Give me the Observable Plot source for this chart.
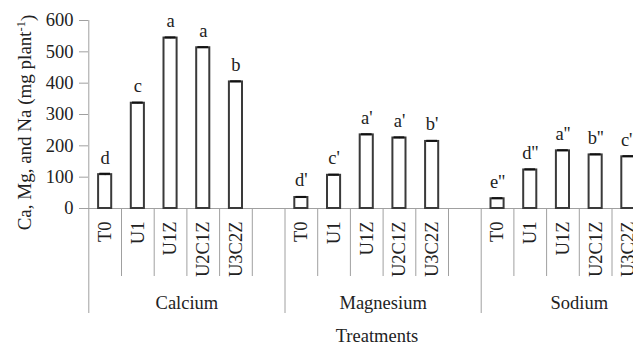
<!DOCTYPE html>
<html>
<head>
<meta charset="utf-8">
<script src="https://cdn.jsdelivr.net/npm/d3@7"></script>
<script src="https://cdn.jsdelivr.net/npm/@observablehq/plot@0.6"></script>
<style>
  html, body { margin: 0; padding: 0; background: white; overflow: hidden; }
  svg text { font-family: "Liberation Serif", "Times New Roman", serif; }
</style>
</head>
<body>
<div id="chart"></div>
<script>
const groups = ["Calcium", "Magnesium", "Sodium"];
const treatments = ["T0", "U1", "U1Z", "U2C1Z", "U3C2Z"];
const calcium = [108, 336, 544, 513, 404];
const magnesium = [35, 106, 235, 225, 214];
const sodium = [31, 123, 184, 171, 165];
const calciumErr = [3, 2, 2, 2, 2];
const magnesiumErr = [2, 2, 2, 2, 2];
const sodiumErr = [2, 2, 2, 2, 2];
const calciumLetters = ["d", "c", "a", "a", "b"];
const magnesiumLetters = ["d'", "c'", "a'", "a'", "b'"];
const sodiumLetters = ["e''", "d''", "a''", "b''", "c''"];
const yTicks = [0, 100, 200, 300, 400, 500, 600];
const yTitle = "Ca, Mg, and Na (mg plant";
const yTitleSup = "-1";
const xTitle = "Treatments";

const seriesValues = [calcium, magnesium, sodium];
const seriesErr = [calciumErr, magnesiumErr, sodiumErr];
const seriesLetters = [calciumLetters, magnesiumLetters, sodiumLetters];

// slot keys: 5 treatments + 1 empty slot per group
const keys = [];
const rows = [];
const slots = [];
groups.forEach((g, gi) => {
  treatments.forEach((t, ti) => {
    const key = g + "|" + t;
    keys.push(key);
    rows.push({key, group: g, treatment: t, value: seriesValues[gi][ti], err: seriesErr[gi][ti], letter: seriesLetters[gi][ti]});
    slots.push({key, groupStart: ti === 0});
  });
  const gapKey = g + "|gap";
  keys.push(gapKey);
  slots.push({key: gapKey, groupStart: false});
});
const groupLabels = groups.map((g) => ({group: g, key: g + "|" + treatments[2]}));

const W = 633, H = 345;
const xRange = [88.3, 676.9];
const bw = (xRange[1] - xRange[0]) / keys.length;
const mTop = 20, mBottom = 137, mLeft = 88;
const frameH = H - mTop - mBottom;
const axisGray = "#a0a0a0";
const barStroke = "#3a3a3a";
const textColor = "#222";
const serif = "Liberation Serif";
const fs = 18.5;

const chart = Plot.plot({
  width: W,
  height: H,
  marginLeft: mLeft,
  marginRight: 0,
  marginTop: mTop,
  marginBottom: mBottom,
  style: {fontFamily: serif, fontSize: fs + "px", color: textColor, background: "white"},
  x: {type: "band", domain: keys, range: xRange, padding: 0, round: false, axis: null},
  y: {domain: [0, 600], axis: null},
  marks: [
    // y axis line
    Plot.ruleX([keys[0]], {x: (d) => d, y1: 0, y2: 600, dx: -bw / 2, stroke: axisGray, strokeWidth: 1}),
    Plot.axisY({ticks: yTicks, tickSize: 9, tickPadding: 6, stroke: axisGray, fill: textColor, label: null, fontSize: fs, fontFamily: serif}),
    // x baseline
    Plot.ruleY([0], {stroke: axisGray, strokeWidth: 1.2}),
    // slot separators
    Plot.ruleX(slots.filter((s) => !s.groupStart), {x: "key", dx: -bw / 2, insetTop: frameH, insetBottom: -68, stroke: axisGray, strokeWidth: 1}),
    Plot.ruleX(slots.filter((s) => s.groupStart), {x: "key", dx: -bw / 2, insetTop: frameH, insetBottom: -105, stroke: axisGray, strokeWidth: 1}),
    // bars
    Plot.barY(rows, {x: "key", y: "value", fill: "white", stroke: barStroke, strokeWidth: 2, insetLeft: 9.8, insetRight: 9.8}),
    // error bars
    Plot.ruleX(rows, {x: "key", y1: (d) => d.value - d.err, y2: (d) => d.value + d.err, stroke: "#111", strokeWidth: 1}),
    Plot.tickY(rows, {x: "key", y: (d) => d.value + d.err, stroke: "#111", strokeWidth: 2, insetLeft: 11, insetRight: 11}),
    // significance letters
    Plot.text(rows, {x: "key", y: "value", text: "letter", dy: -17, lineAnchor: "middle", fill: textColor, fontSize: fs, fontFamily: serif}),
    // treatment tick labels
    Plot.text(rows, {x: "key", text: "treatment", frameAnchor: "bottom", dy: 13, rotate: -90, textAnchor: "end", lineAnchor: "middle", fill: textColor, fontSize: fs, fontFamily: serif}),
    // group labels
    Plot.text(groupLabels, {x: "key", text: "group", frameAnchor: "bottom", dx: bw / 2, dy: 100, textAnchor: "middle", lineAnchor: "bottom", fill: textColor, fontSize: fs, fontFamily: serif}),
    // x title
    Plot.text([xTitle], {frameAnchor: "bottom", dy: 133, dx: 16, textAnchor: "middle", lineAnchor: "bottom", fill: textColor, fontSize: fs, fontFamily: serif}),
    // y title
    Plot.text([yTitle + ")"], {frameAnchor: "left", dx: -64, dy: 8, rotate: -90, textAnchor: "middle", lineAnchor: "middle", fill: textColor, fontSize: 19, fontFamily: serif})
  ]
});

document.getElementById("chart").appendChild(chart);

// add superscript to y title
d3.select(chart).selectAll("text").each(function () {
  if (this.textContent === yTitle + ")") {
    const t = d3.select(this);
    t.text(null);
    t.append("tspan").text(yTitle);
    t.append("tspan").attr("dy", "-0.45em").attr("font-size", "12.5px").text(yTitleSup);
    t.append("tspan").attr("dy", "0.45em").text(")");
  }
});
</script>
</body>
</html>
